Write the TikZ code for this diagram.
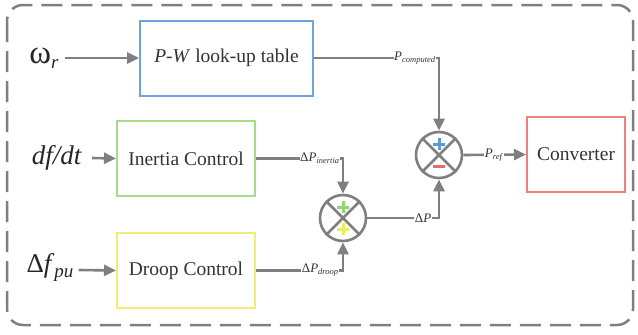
\documentclass[tikz,border=0pt]{standalone}
\usepackage{fontspec}
\setmainfont{Liberation Serif}
\usetikzlibrary{arrows.meta,calc}
\definecolor{lgray}{HTML}{7F7F7F}
\definecolor{pwblue}{HTML}{6FA3DE}
\definecolor{inggreen}{HTML}{A3DE86}
\definecolor{dryellow}{HTML}{EFEF78}
\definecolor{cvred}{HTML}{F07F7F}
\definecolor{plblue}{HTML}{5B9BD5}
\definecolor{plgreen}{HTML}{8ED873}
\definecolor{plyellow}{HTML}{EDED5A}
\definecolor{mnred}{HTML}{EE6B6B}
\newcommand{\lsub}[1]{\raisebox{-2.2pt}{\fontsize{8.5}{9}\selectfont\textit{#1}}}
\newcommand{\bsub}[1]{\raisebox{-5pt}{\fontsize{19}{20}\selectfont\textit{#1}}}
\tikzset{
  blockbox/.style={draw, line width=2pt, minimum height=75, inner sep=0pt,
    font=\fontsize{19.5}{23}\selectfont, text=black!80},
  inlbl/.style={font=\fontsize{27}{30}\selectfont, text=black!85, inner sep=0pt},
  conn/.style={draw=lgray, line width=2.6pt, -{Triangle[length=12pt,width=11pt]}},
  plainln/.style={draw=lgray, line width=2.6pt},
  lbl/.style={fill=white, inner sep=0.6pt, font=\fontsize{13}{14}\selectfont, text=black!80},
  junction/.style={circle, draw=lgray, line width=2.6pt, minimum size=46, inner sep=0pt},
  signln/.style={line width=3pt},
}
\begin{document}
\begin{tikzpicture}[x=1pt,y=-1pt]
\useasboundingbox (0,0) rectangle (638,335);
\draw[lgray, line width=2.5pt, dash pattern=on 21pt off 9pt, rounded corners=16pt] (7,5) rectangle (633,325);

% blocks
\node[blockbox, draw=pwblue, minimum width=173] (pw) at (226.5,58) {\textit{P-W} look-up table};
\node[blockbox, draw=inggreen, minimum width=138] (inertia) at (186,158.5) {Inertia Control};
\node[blockbox, draw=dryellow, minimum width=138] (droop) at (186,270.5) {Droop Control};
\node[blockbox, draw=cvred, minimum width=98] (conv) at (576,154.5) {Converter};

% inputs
\node[inlbl] (omega) at (44,58) {{\fontsize{33}{34}\selectfont ω}\bsub{r}};
\node[inlbl] (dfdt) at (57,158) {\textit{df/dt}};
\node[inlbl] (dfpu) at (50,268) {Δ\textit{f}\bsub{pu}};

% junctions
\node[junction] (s1) at (343,218) {};
\node[junction] (s2) at (439,155) {};
\draw[plainln] (s1.north west) -- (s1.south east) (s1.north east) -- (s1.south west);
\draw[plainln] (s2.north west) -- (s2.south east) (s2.north east) -- (s2.south west);
\draw[plgreen, signln] ($(s1)+(0,-17)$) -- ($(s1)+(0,-5)$) ($(s1)+(-6,-11)$) -- ($(s1)+(6,-11)$);
\draw[plyellow, signln] ($(s1)+(0,5)$) -- ($(s1)+(0,17)$) ($(s1)+(-6,11)$) -- ($(s1)+(6,11)$);
\draw[plblue, signln] ($(s2)+(0,-17)$) -- ($(s2)+(0,-5)$) ($(s2)+(-6,-11)$) -- ($(s2)+(6,-11)$);
\draw[mnred, signln] ($(s2)+(-6,11)$) -- ($(s2)+(6,11)$);

% input arrows
\draw[conn] (omega.east) ++(6,0) -- (pw.west);
\draw[conn] (dfdt.east) ++(10,0) -- (inertia.west);
\draw[conn] (dfpu.east) ++(5,2) -- (droop.west);

% connectors
\coordinate (c1) at (pw.east -| s2);
\coordinate (c2) at (inertia.east -| s1);
\coordinate (c3) at (droop.east -| s1);
\coordinate (c4) at (s1.east -| s2);
\draw[conn] (pw.east) -- (c1) -- (s2.north);
\node[lbl, anchor=east] (lpc) at ($(c1)+(-3,0)$) {\textit{P}\lsub{computed}};
\draw[conn] (inertia.east) -- (c2) -- (s1.north);
\node[lbl, anchor=east] (lpi) at ($(c2)+(-3,0)$) {Δ\textit{P}\lsub{inertia}};
\draw[conn] (droop.east) -- (c3) -- (s1.south);
\node[lbl, anchor=east] (lpd) at ($(c3)+(-4,0)$) {Δ\textit{P}\lsub{droop}};
\draw[conn] (s1.east) -- (c4) -- (s2.south);
\node[lbl, anchor=east] (ldp) at ($(c4)+(-7,0)$) {Δ\textit{P}};
\draw[conn] (s2.east) -- (conv.west);
\node[lbl] (lpr) at (494,155) {\textit{P}\lsub{ref}};
\end{tikzpicture}
\end{document}
